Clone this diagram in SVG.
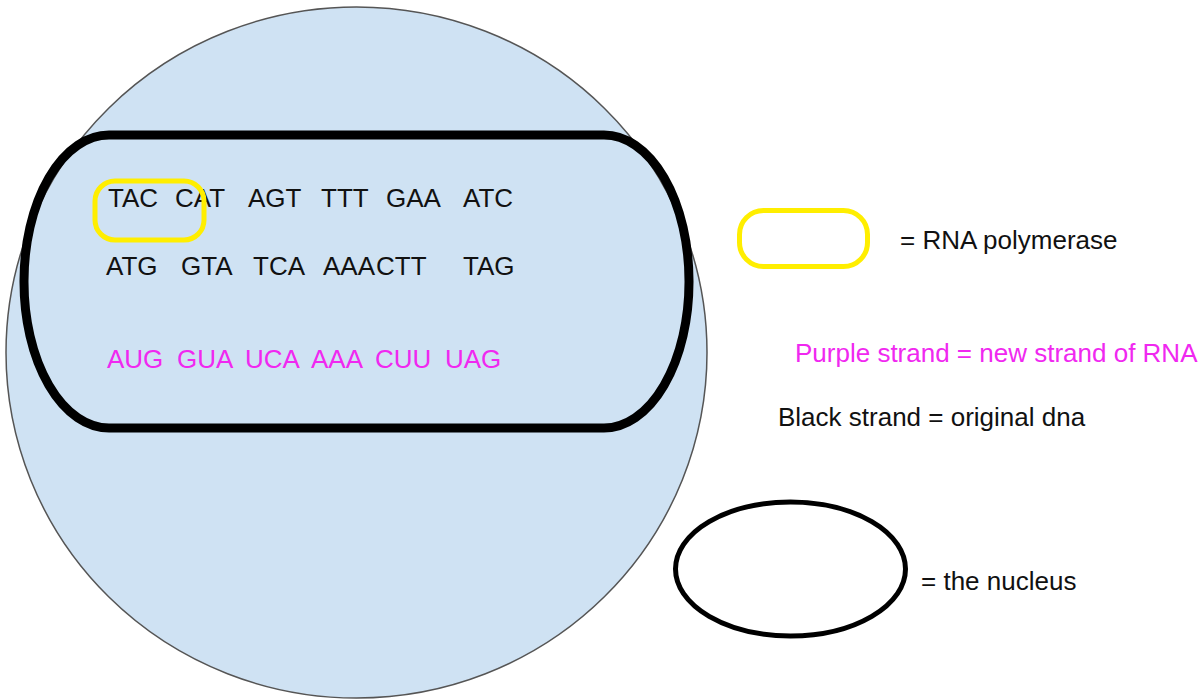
<svg xmlns="http://www.w3.org/2000/svg" width="1201" height="700" viewBox="0 0 1201 700">
<style>
text { font-family: "Liberation Sans", Arial, sans-serif; font-size: 26px; fill: #111; }
.rna { fill: #f028f0; }
.poly { fill: none; stroke: #ffee00; stroke-width: 5; }
.dna { fill: none; stroke: #000; stroke-width: 9; }
</style>
<rect width="1201" height="700" fill="#ffffff"/>
<g id="cell">
  <ellipse cx="356.5" cy="352.5" rx="350.5" ry="345.5" fill="#cfe2f3" stroke="#555" stroke-width="1.5"/>
</g>
<g id="nucleus">
  <rect class="dna" x="24" y="135" width="665" height="293" rx="85" ry="146"/>
</g>
<g id="dna-template">
  <text><tspan x="108" y="207">TAC</tspan><tspan x="175" y="207">CAT</tspan><tspan x="248" y="207">AGT</tspan><tspan x="321" y="207">TTT</tspan><tspan x="386" y="207">GAA</tspan><tspan x="463" y="207">ATC</tspan></text>
</g>
<g id="polymerase">
  <rect class="poly" x="95" y="181" width="109" height="59" rx="20" ry="20"/>
</g>
<g id="dna-coding">
  <text><tspan x="106" y="275">ATG</tspan><tspan x="181" y="275">GTA</tspan><tspan x="253" y="275">TCA</tspan><tspan x="323" y="275">AAA</tspan><tspan x="376" y="275">CTT</tspan><tspan x="463" y="275">TAG</tspan></text>
</g>
<g id="rna-strand">
  <text class="rna"><tspan x="107" y="368">AUG</tspan><tspan x="177" y="368">GUA</tspan><tspan x="245" y="368">UCA</tspan><tspan x="311" y="368">AAA</tspan><tspan x="375" y="368">CUU</tspan><tspan x="445" y="368">UAG</tspan></text>
</g>
<g id="legend-polymerase">
  <rect class="poly" x="739.5" y="210.5" width="128" height="56" rx="24" ry="24"/>
  <text x="900" y="249">= RNA polymerase</text>
</g>
<g id="legend-rna">
  <text class="rna" x="795" y="362">Purple strand = new strand of RNA</text>
</g>
<g id="legend-dna">
  <text x="778" y="426">Black strand = original dna</text>
</g>
<g id="legend-nucleus">
  <ellipse cx="790.5" cy="569" rx="115" ry="67" fill="none" stroke="#000" stroke-width="5"/>
  <text x="921" y="590">= the nucleus</text>
</g>
</svg>
